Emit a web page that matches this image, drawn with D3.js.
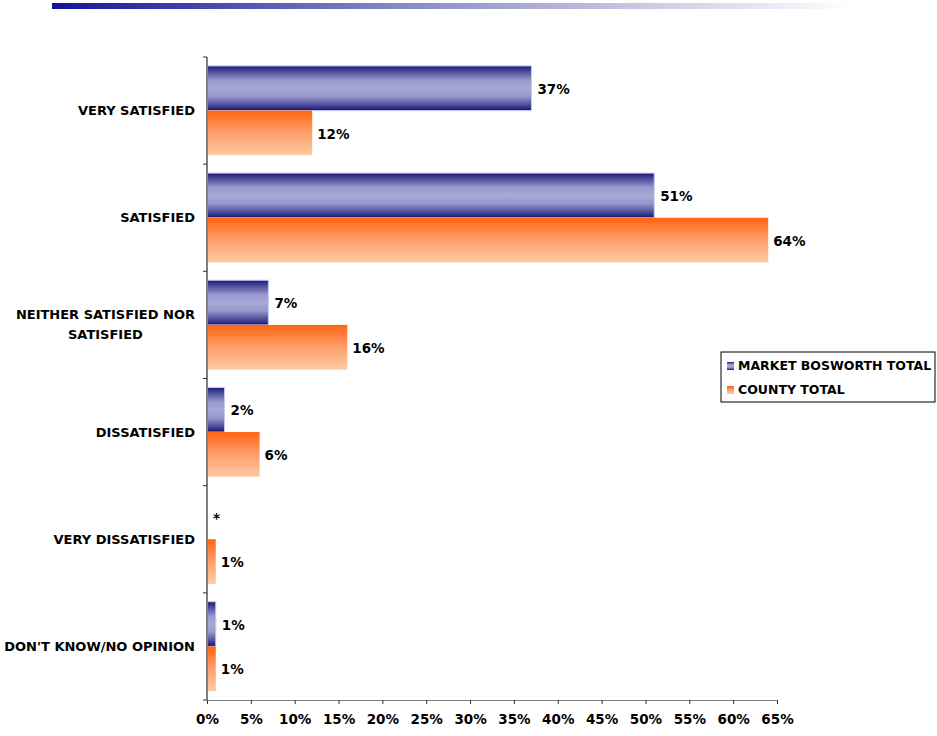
<!DOCTYPE html>
<html>
<head>
<meta charset="utf-8">
<script src="https://cdn.jsdelivr.net/npm/d3@7"></script>
<style>
  html, body { margin: 0; padding: 0; background: #fff; }
  svg { display: block; }
  text { font-family: "DejaVu Sans", Verdana, sans-serif; font-weight: bold; fill: #000; }
</style>
</head>
<body>
<script>
// Satisfaction survey: Market Bosworth vs county totals (percent)
const categories = [
  ["VERY SATISFIED"],
  ["SATISFIED"],
  ["NEITHER SATISFIED NOR", "SATISFIED"],
  ["DISSATISFIED"],
  ["VERY DISSATISFIED"],
  ["DON'T KNOW/NO OPINION"]
];
const seriesNames = ["MARKET BOSWORTH TOTAL", "COUNTY TOTAL"];
const marketValues = [37, 51, 7, 2, 0, 1];
const countyValues = [12, 64, 16, 6, 1, 1];
// a zero share is printed as an asterisk
const marketLabels = ["37%", "51%", "7%", "2%", "*", "1%"];
const countyLabels = ["12%", "64%", "16%", "6%", "1%", "1%"];
const xTicks = [0, 5, 10, 15, 20, 25, 30, 35, 40, 45, 50, 55, 60, 65];

const W = 937, H = 736;
const margin = { left: 207, top: 57, bottom: 36 };
const labelRight = 195;

const svg = d3.select("body").append("svg").attr("width", W).attr("height", H);
const defs = svg.append("defs");

// header rule fading from navy to white
const hg = defs.append("linearGradient").attr("id", "hdr").attr("x1", 0).attr("x2", 1).attr("y1", 0).attr("y2", 0);
hg.append("stop").attr("offset", "0%").attr("stop-color", "#14149a");
hg.append("stop").attr("offset", "45%").attr("stop-color", "#8c8cc6");
hg.append("stop").attr("offset", "100%").attr("stop-color", "#ffffff");
svg.append("rect").attr("x", 52).attr("y", 3).attr("width", 800).attr("height", 6).attr("fill", "url(#hdr)");

// cylinder-like shading for the Market Bosworth bars
const bg = defs.append("linearGradient").attr("id", "blueBar").attr("x1", 0).attr("x2", 0).attr("y1", 0).attr("y2", 1);
[["0%", "#1a1a78"], ["12%", "#4a4a9a"], ["32%", "#9898cc"], ["50%", "#a8a8d8"], ["68%", "#9898cc"], ["88%", "#4a4a9a"], ["100%", "#14146e"]]
  .forEach(([o, c]) => bg.append("stop").attr("offset", o).attr("stop-color", c));

// orange fading to peach for the county bars
const og = defs.append("linearGradient").attr("id", "orangeBar").attr("x1", 0).attr("x2", 0).attr("y1", 0).attr("y2", 1);
[["0%", "#ff6410"], ["45%", "#ff9a66"], ["100%", "#ffcaa2"]]
  .forEach(([o, c]) => og.append("stop").attr("offset", o).attr("stop-color", c));

const x = d3.scaleLinear().domain([0, 65]).range([margin.left, margin.left + 570]);
const y = d3.scaleBand().domain(d3.range(categories.length)).range([margin.top, H - margin.bottom]);
const inner = d3.scaleBand().domain([0, 1]).range([0, y.bandwidth()]).paddingOuter(0.2).paddingInner(0);

// bars
const groups = svg.append("g").selectAll("g").data(categories).join("g")
  .attr("transform", (d, i) => `translate(0,${y(i)})`);

groups.append("rect")
  .attr("x", x(0)).attr("y", inner(0))
  .attr("width", (d, i) => x(marketValues[i]) - x(0))
  .attr("height", inner.bandwidth())
  .attr("fill", "url(#blueBar)")
  .attr("stroke", (d, i) => marketValues[i] > 0 ? "#c8c8f0" : "none")
  .attr("stroke-width", 1);

groups.append("rect")
  .attr("x", x(0)).attr("y", inner(1))
  .attr("width", (d, i) => x(countyValues[i]) - x(0))
  .attr("height", inner.bandwidth())
  .attr("fill", "url(#orangeBar)");

// value labels
groups.append("text")
  .attr("x", (d, i) => x(marketValues[i]) + 6)
  .attr("y", inner(0) + inner.bandwidth() / 2 + 1)
  .attr("dy", "0.35em").attr("font-size", 13.5)
  .text((d, i) => marketLabels[i]);

groups.append("text")
  .attr("x", (d, i) => x(countyValues[i]) + 5)
  .attr("y", inner(1) + inner.bandwidth() / 2 + 1)
  .attr("dy", "0.35em").attr("font-size", 13.5)
  .text((d, i) => countyLabels[i]);

// category labels: single lines right-aligned, wrapped labels centred on their widest line
groups.each(function (lines) {
  const g = d3.select(this);
  const t = g.append("text").attr("font-size", 13)
    .attr("y", y.bandwidth() / 2 - (lines.length - 1) * 10);
  lines.forEach((s, j) => {
    t.append("tspan").attr("dy", j === 0 ? "0.35em" : "20px").text(s);
  });
  if (lines.length === 1) {
    t.attr("text-anchor", "end").selectAll("tspan").attr("x", labelRight);
  } else {
    const widest = d3.max(t.selectAll("tspan").nodes(), n => n.getComputedTextLength());
    t.attr("text-anchor", "middle").selectAll("tspan").attr("x", labelRight - widest / 2);
  }
});

// y axis: line with outward ticks at the category boundaries
const yAxis = svg.append("g");
yAxis.append("line").attr("x1", x(0)).attr("x2", x(0)).attr("y1", margin.top).attr("y2", H - margin.bottom)
  .attr("stroke", "#808080").attr("stroke-width", 2);
yAxis.selectAll("line.tick").data(d3.range(categories.length + 1)).join("line").attr("class", "tick")
  .attr("x1", x(0) - 4).attr("x2", x(0))
  .attr("y1", i => margin.top + i * y.step()).attr("y2", i => margin.top + i * y.step())
  .attr("stroke", "#333");

// x axis
const xAxis = d3.axisBottom(x).tickValues(xTicks).tickFormat(d => d + "%").tickSize(4).tickPadding(10);
const xg = svg.append("g").attr("transform", `translate(0,${H - margin.bottom})`).call(xAxis);
xg.select(".domain").attr("stroke", "#808080").attr("stroke-width", 1);
xg.selectAll(".tick line").attr("stroke", "#333");
xg.selectAll(".tick text").attr("font-size", 13.5).attr("font-family", "\"DejaVu Sans\", Verdana, sans-serif").attr("font-weight", "bold").attr("fill", "#000");

// legend
const lg = svg.append("g").attr("transform", "translate(721,352)");
lg.append("rect").attr("width", 214).attr("height", 50).attr("fill", "#fff").attr("stroke", "#000").attr("stroke-width", 1);
const fills = ["url(#blueBar)", "url(#orangeBar)"];
seriesNames.forEach((name, i) => {
  const row = lg.append("g").attr("transform", `translate(6,${14 + i * 24})`);
  row.append("rect").attr("x", 0).attr("y", -4).attr("width", 7).attr("height", 8).attr("fill", fills[i]);
  row.append("text").attr("x", 11).attr("dy", "0.35em").attr("font-size", 12.5).text(name);
});
</script>
</body>
</html>
